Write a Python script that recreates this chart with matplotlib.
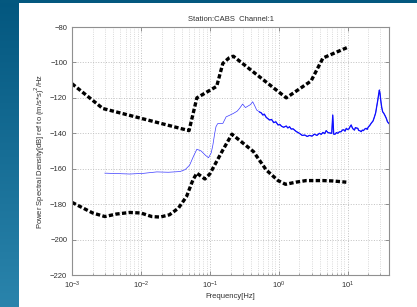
import numpy as np
import matplotlib
matplotlib.use("Agg")
import matplotlib.pyplot as plt
from matplotlib.ticker import LogLocator, NullFormatter, MultipleLocator

plt.rcParams['font.family'] = ['Liberation Sans', 'DejaVu Sans']

# high noise model (upper dashed curve)
high_f = [0.001, 0.0028, 0.05, 0.065, 0.126, 0.155, 0.19, 0.22, 1.29, 2.95, 4.4, 10]
high_db = [-112, -126, -138.5, -120, -113.5, -100.5, -97.5, -96.5, -120, -110.5, -97.5, -91.5]

# low noise model (lower dashed curve)
low_f = [0.001, 0.00155, 0.002, 0.003, 0.0044, 0.0069, 0.010, 0.0144, 0.019, 0.026,
         0.035, 0.046, 0.057, 0.065, 0.085, 0.1, 0.155, 0.21, 0.43, 0.66, 0.98,
         1.26, 1.78, 2.5, 4.4, 6.1, 9.6]
low_db = [-179, -182.8, -185, -187, -185.6, -184.7, -185, -187, -187.3, -186,
          -182.3, -175.7, -166.3, -162.5, -165.8, -163, -149.4, -140.5, -150.3, -160.7, -166.7,
          -168.8, -167.6, -166.7, -166.7, -166.9, -167.6]

# measured PSD (blue)
psd_f = [0.003, 0.0069, 0.011, 0.017, 0.025, 0.037, 0.044, 0.051, 0.058, 0.065,
         0.075, 0.087, 0.096, 0.105, 0.111, 0.118, 0.123, 0.13, 0.14, 0.155,
         0.173, 0.19, 0.22, 0.25, 0.27, 0.30, 0.33, 0.36, 0.39, 0.42,
         0.45, 0.48, 0.53, 0.56, 0.59, 0.62, 0.66, 0.70, 0.74, 0.79,
         0.85, 0.91, 0.98, 1.04, 1.1, 1.18, 1.29, 1.36, 1.44, 1.52,
         1.62, 1.8, 2.0, 2.2, 2.4, 2.6, 2.8, 3.05, 3.3, 3.6,
         3.9, 4.15, 4.4, 4.65, 4.9, 5.2, 5.5, 5.9, 6.1, 6.3,
         6.6, 6.9, 7.2, 7.6, 8.1, 8.4, 8.8, 9.2, 9.6, 10.0,
         10.5, 10.9, 11.3, 11.7, 12.0, 12.6, 13.0, 13.4, 14.1, 14.5,
         15.0, 15.8, 16.4, 17.0, 17.8, 18.6, 19.3, 20.0, 21.0, 22.0,
         23.5, 24.6, 25.6, 26.5, 27.5, 28.3, 29.0, 29.6, 30.5, 31.4,
         32.4, 33.5, 35.0, 36.5, 38.0, 40.0]
psd_db = [-162.5, -163, -162.6, -161.8, -162.0, -161.6, -160.5, -158, -153, -149,
          -150, -152.5, -153.8, -151, -146.6, -140, -136.3, -134.6, -134.4, -134.4,
          -130.7, -130, -128.8, -127.5, -126, -123.5, -125.5, -124.6, -123.8, -122.2,
          -124.5, -126.9, -128, -128.5, -129.7, -129.2, -131, -131.8, -132.5, -132.2,
          -134, -133.5, -135.3, -135, -136, -136.6, -135.9, -137, -136.3, -137.6,
          -137.5, -139, -140, -141.2, -141, -141.8, -141.2, -141.6, -140.5, -141.2,
          -140, -140.6, -139.5, -140.2, -138.5, -139.6, -139.8, -140, -129.7, -140.5,
          -140.5, -139.6, -140, -139.2, -139.1, -138.2, -138, -138.8, -137.2, -137.9,
          -137.5, -136.2, -135.3, -136.8, -137.5, -138.2, -136.8, -137, -137.2, -138.4,
          -138.5, -139.1, -138.2, -138.5, -137.6, -137.2, -137.8, -136.5, -135.6, -134.4,
          -133.0, -130.7, -128.5, -125, -121.3, -118, -115.6, -117.5, -122, -125.5,
          -127.9, -128.6, -130, -131.5, -133.5, -134.5]

fig = plt.figure(figsize=(4.17, 3.07), dpi=100)
fig.patch.set_facecolor('white')

# slide background: gradient strip on the left, dark band on top
bg = fig.add_axes([0, 0, 19 / 417, 1])
grad = np.linspace(0, 1, 256).reshape(-1, 1)
cmap = matplotlib.colors.LinearSegmentedColormap.from_list('bg', ['#03577f', '#2a84ac'])
bg.imshow(grad, aspect='auto', cmap=cmap, extent=[0, 1, 0, 1], origin='upper')
bg.axis('off')
top = fig.add_axes([0, 1 - 3 / 307, 1, 3 / 307])
top.axis('off')
top.add_patch(plt.Rectangle((0, 0), 1, 1, color='#04587f', transform=top.transAxes))

ax = fig.add_axes([72 / 417, 1 - 275 / 307, 317 / 417, 248 / 307])
psd_f_arr = np.array(psd_f)
psd_db_arr = np.array(psd_db)
ax.plot(psd_f_arr, psd_db_arr, color='#3a3aff', lw=0.5)
hi = psd_f_arr >= 0.5
ax.plot(psd_f_arr[hi], psd_db_arr[hi], color='#1010ff', lw=0.9)

dash = (0, (1.3, 0.7))
ax.plot(high_f, high_db, color='black', lw=2.4, linestyle=dash, dash_capstyle='butt')
ax.plot(low_f, low_db, color='black', lw=2.4, linestyle=dash, dash_capstyle='butt')

ax.set_xscale('log')
ax.set_xlim(1e-3, 40)
ax.set_ylim(-220, -80)
ax.yaxis.set_major_locator(MultipleLocator(20))
ax.xaxis.set_major_locator(LogLocator(base=10, numticks=10))
ax.xaxis.set_minor_locator(LogLocator(base=10, subs=np.arange(2, 10), numticks=20))
ax.xaxis.set_minor_formatter(NullFormatter())

ax.grid(True, which='major', axis='both', color='#c0c0c0', linestyle=':', lw=0.7)
ax.grid(True, which='minor', axis='x', color='#cccccc', linestyle=':', lw=0.6)

for s in ax.spines.values():
    s.set_color('#909090')
    s.set_linewidth(0.8)
ax.tick_params(direction='in', length=3, width=0.6, colors='#808080',
               labelcolor='#303030', labelsize=5.5, top=True, right=True)
ax.tick_params(which='minor', direction='in', length=1.5, width=0.5, colors='#808080')

ax.set_title('Station:CABS  Channel:1', fontsize=5.5, color='#303030', pad=4)
ax.set_xlabel('Frequency[Hz]', fontsize=5.5, color='#303030', labelpad=1)
ax.set_ylabel('Power Spectral Density[dB] ref to (m/s*s)$^2$/Hz', fontsize=5.5,
              color='#303030', labelpad=2)

fig.savefig('out.png', dpi=100, facecolor=fig.get_facecolor())
